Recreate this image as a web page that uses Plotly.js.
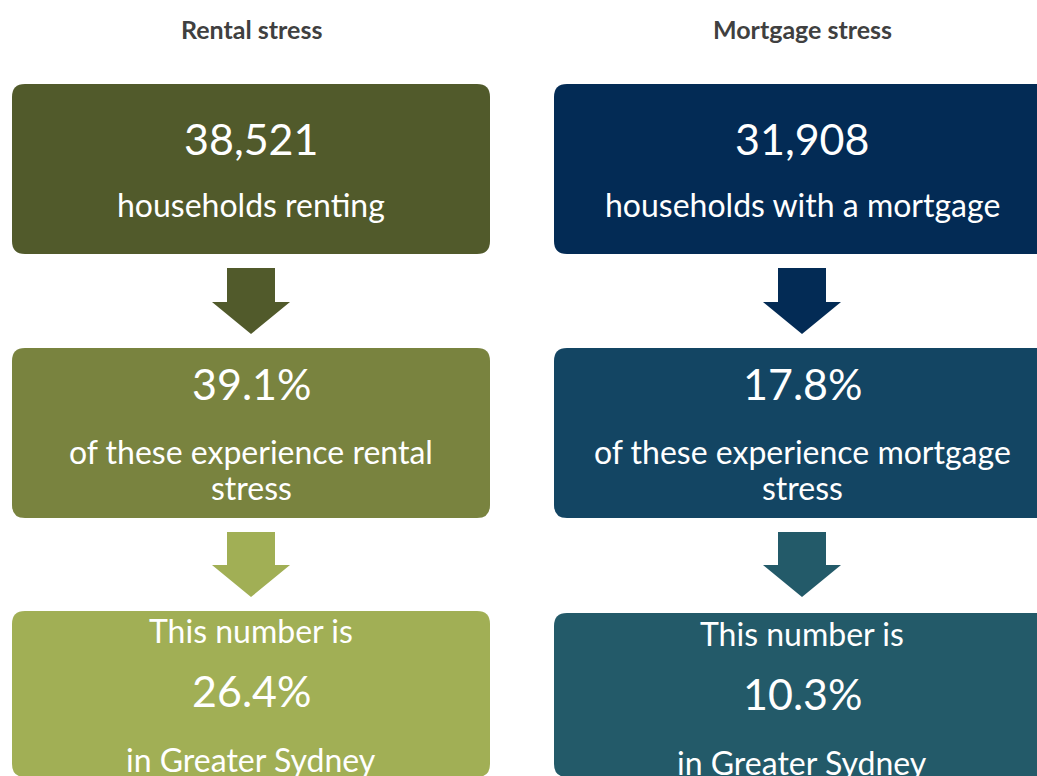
<!DOCTYPE html>
<html>
<head>
<meta charset="utf-8">
<script src="https://cdn.plot.ly/plotly-3.0.1.min.js"></script>
<style>html,body{margin:0;padding:0;background:#fff;}#chart{width:1037px;height:776px;}</style>
</head>
<body>
<div id="chart"></div>
<script>
// ---- data ----
const panels = ["Rental stress", "Mortgage stress"];
const households = [38521, 31908];
const householdLabels = ["households renting", "households with a mortgage"];
const stressShare = [39.1, 17.8];
const stressLabels = ["of these experience rental<br>stress", "of these experience mortgage<br>stress"];
const sydneyShare = [26.4, 10.3];
const sydneyPrefix = ["This number is", "This number is"];
const sydneySuffix = ["in Greater Sydney", "in Greater Sydney"];

// ---- styles / layout geometry ----
const boxColors = [["#515A2B", "#79833F", "#A1AF55"], ["#032B55", "#134563", "#235A69"]];
const arrowColors = [["#515A2B", "#A1AF55"], ["#032B55", "#235A69"]];
const colX = [[12, 490], [554, 1050]];
const colC = [251, 802];
const rowY = [[84, 254], [348, 518], [611, 777]];
const FONT = "Lato, 'Open Sans', sans-serif";
const BIG = 43, MID = 32, TITLE = 25;

function roundRect(x0, y0, x1, y1, r) {
  return `M${x0 + r},${y0} L${x1 - r},${y0} Q${x1},${y0} ${x1},${y0 + r} L${x1},${y1 - r} Q${x1},${y1} ${x1 - r},${y1} L${x0 + r},${y1} Q${x0},${y1} ${x0},${y1 - r} L${x0},${y0 + r} Q${x0},${y0} ${x0 + r},${y0} Z`;
}
function arrow(cx, top, headY, tip) {
  const sw = 24, hw = 39;
  return `M${cx - sw},${top} L${cx + sw},${top} L${cx + sw},${headY} L${cx + hw},${headY} L${cx},${tip} L${cx - hw},${headY} L${cx - sw},${headY} Z`;
}

const shapes = [];
const annotations = [];
const fmtInt = n => n.toLocaleString("en-US");

for (let c = 0; c < 2; c++) {
  for (let r = 0; r < 3; r++) {
    const y0 = rowY[r][0] + (c === 1 && r === 2 ? 2 : 0);
    shapes.push({type: "path", xref: "x", yref: "y", path: roundRect(colX[c][0], y0, colX[c][1], rowY[r][1], 13),
      fillcolor: boxColors[c][r], line: {width: 0}, layer: "below"});
  }
  shapes.push({type: "path", xref: "x", yref: "y", path: arrow(colC[c], 268, 302, 334), fillcolor: arrowColors[c][0], line: {width: 0}});
  shapes.push({type: "path", xref: "x", yref: "y", path: arrow(colC[c], 532, 565, 597), fillcolor: arrowColors[c][1], line: {width: 0}});

  const add = (text, y, size, opts = {}) => annotations.push(Object.assign({
    x: colC[c], y: y, xref: "x", yref: "y", text: text, showarrow: false,
    xanchor: "center", yanchor: "middle", font: {family: FONT, size: size, color: "#FFFFFF"}
  }, opts));

  add("<b>" + panels[c] + "</b>", 28.5, TITLE, {font: {family: FONT, size: TITLE, color: "#404040"}});
  add(fmtInt(households[c]), 138, BIG);
  add(householdLabels[c], 204, MID);
  add(stressShare[c].toFixed(1) + "%", 383, BIG);
  const lines = stressLabels[c].split("<br>");
  lines.forEach((t, i) => add(t, 451 + 36 * i, MID));
  const dy = c === 1 ? 3 : 0;
  add(sydneyPrefix[c], 630 + dy, MID);
  add(sydneyShare[c].toFixed(1) + "%", 690 + dy, BIG);
  add(sydneySuffix[c], 759 + dy, MID);
}

const layout = {
  width: 1037, height: 776,
  margin: {l: 0, r: 0, t: 0, b: 0},
  paper_bgcolor: "#FFFFFF", plot_bgcolor: "#FFFFFF",
  xaxis: {range: [0, 1037], visible: false, fixedrange: true},
  yaxis: {range: [776, 0], visible: false, fixedrange: true},
  showlegend: false,
  shapes: shapes,
  annotations: annotations
};
Plotly.newPlot("chart", [{x: [], y: [], type: "scatter", mode: "markers", hoverinfo: "skip"}], layout, {displayModeBar: false, staticPlot: true});
</script>
</body>
</html>
